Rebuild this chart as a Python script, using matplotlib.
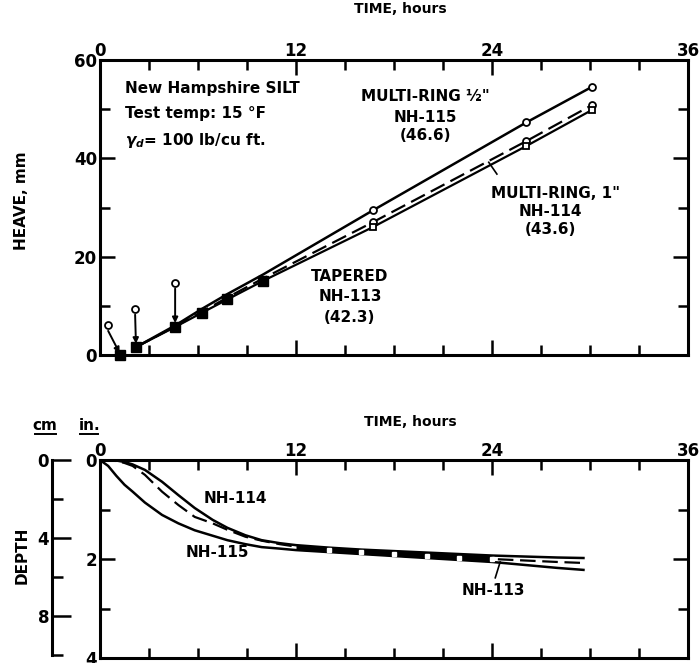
import matplotlib
matplotlib.use('Agg')
import matplotlib.pyplot as plt
from matplotlib.ticker import MultipleLocator
from matplotlib.lines import Line2D
import numpy as np

plt.rcParams['font.family'] = ['DejaVu Sans']
plt.rcParams['font.weight'] = 'bold'

# ---- heave data (top panel), time in hours, heave in mm
heave_t = [2.2, 4.6, 6.25, 7.8, 10.0, 16.7, 26.1, 30.1]
heave_115 = [1.6, 6.0, 9.4, 12.4, 16.4, 29.4, 47.3, 54.5]
heave_114 = [1.6, 5.8, 8.8, 11.7, 15.6, 27.0, 43.5, 50.8]
heave_113 = [1.6, 5.7, 8.6, 11.3, 15.1, 26.0, 42.5, 49.8]
start_t = [1.2]
start_y = [0.0]
# early readings (open circles) and where they were corrected to
early_t = [0.5, 2.15, 4.6]
early_y = [6.1, 9.4, 14.7]
early_to_t = [1.2, 2.2, 4.6]
early_to_y = [0.4, 2.3, 6.5]

# ---- frost depth data (bottom panel), depth in inches
depth_t = [0, 0.5, 1, 1.5, 2, 2.75, 3.8, 4.8, 5.8, 6.9, 7.8, 8.9, 9.9, 11, 12,
           14, 16, 18, 20, 22, 24, 26, 28, 29.6]
depth_114 = [0, 0.0, 0.01, 0.04, 0.09, 0.2, 0.44, 0.71, 0.97, 1.21, 1.37, 1.52, 1.62, 1.68, 1.72,
             1.77, 1.81, 1.84, 1.87, 1.90, 1.93, 1.95, 1.97, 1.98]
depth_113 = [0, 0.01, 0.02, 0.06, 0.12, 0.3, 0.64, 0.91, 1.15, 1.28, 1.41, 1.55, 1.63, 1.70, 1.75,
             1.81, 1.86, 1.90, 1.94, 1.97, 2.00, 2.03, 2.06, 2.08]
depth_115 = [0, 0.12, 0.32, 0.5, 0.64, 0.86, 1.11, 1.28, 1.42, 1.53, 1.62, 1.70, 1.76, 1.79, 1.82,
             1.86, 1.90, 1.94, 1.98, 2.02, 2.06, 2.12, 2.18, 2.22]

fig = plt.figure(figsize=(6.99, 6.63), dpi=100)

spine_lw = 2.2
tick_kw = dict(direction='in', width=1.8, labelsize=12)

# ================= top panel =================
ax = fig.add_axes([100/699, 1-355/663, 588/699, 295/663])
ax.set_xlim(0, 36)
ax.set_ylim(0, 60)
for s in ax.spines.values():
    s.set_linewidth(spine_lw)
ax.xaxis.set_major_locator(MultipleLocator(12))
ax.xaxis.set_minor_locator(MultipleLocator(3))
ax.yaxis.set_major_locator(MultipleLocator(20))
ax.yaxis.set_minor_locator(MultipleLocator(10))
ax.tick_params(which='both', top=True, bottom=True, left=True, right=True,
               labeltop=True, labelbottom=False, **tick_kw)
ax.tick_params(which='major', length=11, pad=2)
ax.tick_params(which='minor', length=7)
ax.tick_params(axis='x', which='major', pad=0)

ax.plot(heave_t, heave_115, '-', color='k', lw=1.8)
ax.plot(heave_t, heave_114, '--', color='k', lw=1.6, dashes=(7, 3))
ax.plot(heave_t, heave_113, '-', color='k', lw=1.6)
ax.plot(heave_t[5:], heave_115[5:], 'o', ms=5, mfc='white', mec='k', mew=1.3)
ax.plot(heave_t[5:], heave_114[5:], 'o', ms=5, mfc='white', mec='k', mew=1.3)
ax.plot(heave_t[5:], heave_113[5:], 's', ms=5, mfc='white', mec='k', mew=1.3)
ax.plot(heave_t[:5], heave_113[:5], 's', ms=7, color='k')
ax.plot(start_t, start_y, 's', ms=7, color='k', clip_on=False)
ax.plot(early_t, early_y, 'o', ms=5, mfc='white', mec='k', mew=1.3)
for i in range(len(early_t)):
    ax.annotate('', xy=(early_to_t[i], early_to_y[i]), xytext=(early_t[i], early_y[i] - 1.2),
                arrowprops=dict(arrowstyle='-|>', color='k', lw=1.4, mutation_scale=8,
                                shrinkA=0, shrinkB=0))

txt = dict(fontsize=11, fontweight='bold', color='k')
ax.text(1.5, 54.3, 'New Hampshire SILT', ha='left', va='center', **txt)
ax.text(1.5, 49.2, 'Test temp: 15 °F', ha='left', va='center', **txt)
ax.text(1.5, 43.7, r'$\gamma_d$= 100 lb/cu ft.', ha='left', va='center', **txt)

ax.text(19.9, 52.5, 'MULTI-RING ½"', ha='center', va='center', **txt)
ax.text(19.9, 48.4, 'NH-115', ha='center', va='center', **txt)
ax.text(19.9, 44.7, '(46.6)', ha='center', va='center', **txt)

ax.text(27.9, 32.9, 'MULTI-RING, 1"', ha='center', va='center', **txt)
ax.text(27.6, 29.2, 'NH-114', ha='center', va='center', **txt)
ax.text(27.6, 25.6, '(43.6)', ha='center', va='center', **txt)
ax.plot([23.8, 24.3], [39.2, 36.8], '-', color='k', lw=1.2)

ax.text(15.3, 15.9, 'TAPERED', ha='center', va='center', **txt)
ax.text(15.3, 11.8, 'NH-113', ha='center', va='center', **txt)
ax.text(15.3, 7.6, '(42.3)', ha='center', va='center', **txt)

fig.text(0.572, 0.986, 'TIME, hours', ha='center', va='center', fontsize=10, fontweight='bold')
fig.text(0.031, 0.698, 'HEAVE, mm', ha='center', va='center', rotation=90, fontsize=11, fontweight='bold')

# ================= bottom panel =================
bx = fig.add_axes([100/699, 1-658/663, 588/699, 198/663])
bx.set_xlim(0, 36)
bx.set_ylim(4, 0)
for s in bx.spines.values():
    s.set_linewidth(spine_lw)
bx.xaxis.set_major_locator(MultipleLocator(12))
bx.xaxis.set_minor_locator(MultipleLocator(3))
bx.yaxis.set_major_locator(MultipleLocator(2))
bx.yaxis.set_minor_locator(MultipleLocator(1))
bx.tick_params(which='both', top=True, bottom=True, left=True, right=True,
               labeltop=True, labelbottom=False, **tick_kw)
bx.tick_params(which='major', length=11, pad=2)
bx.tick_params(which='minor', length=7)
bx.tick_params(axis='x', which='major', pad=0)

dt = np.array(depth_t)
band = (dt >= 12) & (dt <= 24)
bx.fill_between(dt, depth_114, depth_115, where=band, color='k', lw=0)
bx.plot(depth_t, depth_114, '-', color='k', lw=1.8)
bx.plot(depth_t, depth_113, '--', color='k', lw=1.6, dashes=(7, 3))
bx.plot(depth_t, depth_115, '-', color='k', lw=1.8)
bx.plot(depth_t[15:21], depth_113[15:21], 's', ms=2.5, mfc='white', mec='white')

bx.text(8.3, 0.77, 'NH-114', ha='center', va='center', **txt)
bx.text(7.2, 1.86, 'NH-115', ha='center', va='center', **txt)
bx.text(24.1, 2.63, 'NH-113', ha='center', va='center', **txt)
bx.plot([24.5, 24.2], [2.06, 2.38], '-', color='k', lw=1.2)

fig.text(0.587, 0.3635, 'TIME, hours', ha='center', va='center', fontsize=10, fontweight='bold')
fig.text(0.031, 0.163, 'DEPTH', ha='center', va='center', rotation=90, fontsize=11, fontweight='bold')
fig.text(45/699, 1-425/663, 'cm', ha='center', va='center', fontsize=11, fontweight='bold')
fig.text(90/699, 1-425/663, 'in.', ha='center', va='center', fontsize=11, fontweight='bold')
fig.add_artist(Line2D([35/699, 56/699], [1-434/663, 1-434/663], color='k', lw=1.4))
fig.add_artist(Line2D([80/699, 98/699], [1-434/663, 1-434/663], color='k', lw=1.4))

# separate cm scale
cx = fig.add_axes([52/699, 1-658/663, 0.001, 198/663])
cx.set_ylim(4 * 2.54, 0)
cx.set_xticks([])
for k in ['top', 'bottom', 'right']:
    cx.spines[k].set_visible(False)
cx.spines['left'].set_linewidth(spine_lw)
cx.spines['left'].set_bounds(0, 10)
cx.yaxis.set_major_locator(MultipleLocator(4))
cx.yaxis.set_minor_locator(MultipleLocator(2))
cx.set_yticks([0, 4, 8])
cx.tick_params(which='both', left=True, **tick_kw)
cx.tick_params(which='major', length=14, pad=2)
cx.tick_params(which='minor', length=8)
cx.patch.set_visible(False)

fig.savefig('out.png', dpi=100)
